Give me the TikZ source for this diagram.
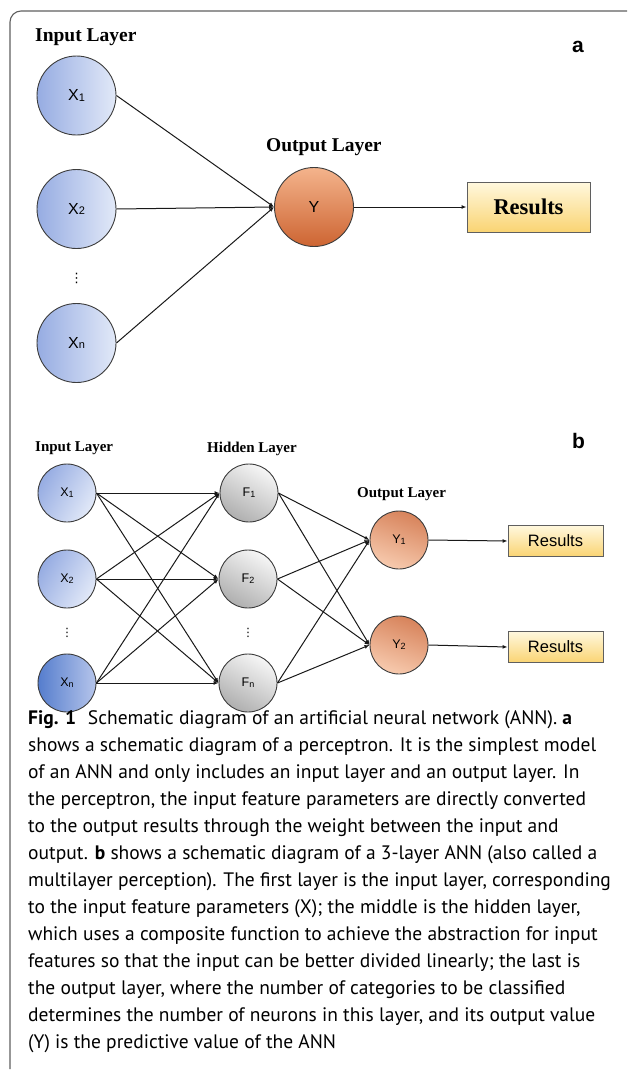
\documentclass[tikz,border=0pt]{standalone}
\usepackage{fontspec}
\setmainfont{Liberation Serif}
\setsansfont{Liberation Sans}
\newfontfamily\capfont{PT Sans}
\newfontfamily\symfont{DejaVu Sans}
\usetikzlibrary{arrows.meta}

% colours of the neurons and result boxes
\definecolor{frameg}{RGB}{95,95,95}
\definecolor{edgeg}{RGB}{60,60,60}
\definecolor{blueD}{RGB}{150,172,226}
\definecolor{blueL}{RGB}{226,233,248}
\definecolor{blueX}{RGB}{85,125,205}
\definecolor{grayD}{RGB}{175,175,175}
\definecolor{grayL}{RGB}{246,246,246}
\definecolor{orgD}{RGB}{205,100,50}
\definecolor{orgL}{RGB}{244,180,140}
\definecolor{yelD}{RGB}{250,212,115}
\definecolor{yelL}{RGB}{255,248,222}

% small index digit after a neuron letter
\newcommand{\nidx}[2]{{\fontsize{#2}{#2}\selectfont\raisebox{-0.8pt}{#1}}}

\begin{document}
\begin{tikzpicture}[x=1pt,y=-1pt,
  neuronA/.style={circle, draw=edgeg, line width=0.9pt, minimum size=79pt,
    inner sep=0pt, font=\sffamily\fontsize{16}{16}\selectfont},
  neuronB/.style={circle, draw=edgeg, line width=0.9pt, minimum size=58pt,
    inner sep=0pt, font=\sffamily\fontsize{12.5}{12.5}\selectfont},
  inA/.style={neuronA, left color=blueD, right color=blueL},
  inB/.style={neuronB, left color=blueD, right color=blueL, shading angle=60},
  hidB/.style={neuronB, top color=grayL, bottom color=grayD, shading angle=-30},
  outA/.style={neuronA, top color=orgL, bottom color=orgD},
  outB/.style={neuronB, top color=orgD!80, bottom color=orgL!70, shading angle=-20},
  resbox/.style={draw=frameg, line width=0.9pt, top color=yelL, bottom color=yelD,
    inner sep=0pt},
  headA/.style={anchor=base west, inner sep=0pt,
    font=\bfseries\fontsize{19.5}{20}\selectfont},
  headB/.style={anchor=base west, inner sep=0pt,
    font=\bfseries\fontsize{15}{15}\selectfont},
  panel/.style={anchor=base west, inner sep=0pt,
    font=\sffamily\bfseries\fontsize{21}{21}\selectfont},
  vdot/.style={inner sep=0pt, text=black, font=\symfont\fontsize{13}{13}\selectfont},
  conn/.style={line width=1pt, black!90, -{Latex[length=5pt,width=4pt]}}
]
\useasboundingbox (0,0) rectangle (627,1071);

% outer frame, open on the right and at the bottom
\draw[frameg, line width=1.1pt, rounded corners=11pt]
  (627,11) -- (10,11) -- (10,1069);

% ---------- panel a: perceptron ----------
\node[panel] (la) at (572,52) {a};
\node[headA] (hinA) at (35,41) {Input Layer};
\node[headA] (houtA) at (266,151) {Output Layer};

\node[inA] (xa1) at (76.5,95.5) {X\nidx{1}{11}};
\node[inA] (xa2) at (76.5,209) {X\nidx{2}{11}};
\node[vdot] (da) at (76.5,278) {⋮};
\node[inA] (xan) at (76.5,343) {X\nidx{n}{11}};
\node[outA] (ya) at (314,207) {Y};
\node[resbox, minimum width=123pt, minimum height=50pt,
  font=\bfseries\fontsize{22.5}{22.5}\selectfont] (ra) at (528.5,207) {Results};

\foreach \s in {xa1,xa2,xan}
  \draw[conn] (\s.east) -- (ya.west);
\draw[conn] (ya.east) -- (ra.west);

% ---------- panel b: three-layer network ----------
\node[panel] (lb) at (572,448) {b};
\node[headB] (hinB) at (35,451) {Input Layer};
\node[headB] (hhidB) at (207,452) {Hidden Layer};
\node[headB] (houtB) at (357,497) {Output Layer};

\node[inB] (xb1) at (67,493) {X\nidx{1}{9}};
\node[inB] (xb2) at (67,579) {X\nidx{2}{9}};
\node[vdot, font=\symfont\fontsize{11.5}{11.5}\selectfont] (db1) at (67,633) {⋮};
\node[inB, left color=blueX, right color=blueD!70] (xbn) at (67,683) {X\nidx{n}{9}};

\node[hidB] (fb1) at (249,493) {F\nidx{1}{9}};
\node[hidB] (fb2) at (248,579) {F\nidx{2}{9}};
\node[vdot, font=\symfont\fontsize{11.5}{11.5}\selectfont] (db2) at (248,633) {⋮};
\node[hidB] (fbn) at (248,683) {F\nidx{n}{9}};

\node[outB] (yb1) at (399,540) {Y\nidx{1}{9}};
\node[outB] (yb2) at (399,645) {Y\nidx{2}{9}};

\node[resbox, minimum width=95pt, minimum height=31pt,
  font=\sffamily\fontsize{16.5}{16.5}\selectfont] (rb1) at (555.5,541) {Results};
\node[resbox, minimum width=95pt, minimum height=31pt,
  font=\sffamily\fontsize{16.5}{16.5}\selectfont] (rb2) at (555.5,647) {Results};

\foreach \s in {xb1,xb2,xbn}
  \foreach \t in {fb1,fb2,fbn}
    \draw[conn] (\s.east) -- (\t.west);
\foreach \s in {fb1,fb2,fbn}
  \foreach \t in {yb1,yb2}
    \draw[conn] (\s.east) -- (\t.west);
\draw[conn] (yb1.east) -- (rb1.west);
\draw[conn] (yb2.east) -- (rb2.west);

% ---------- caption ----------
\node[anchor=north west, align=left, inner sep=0pt,
  font=\capfont\fontsize{19.5}{27}\selectfont] (cap) at (28,710) {%
\textbf{Fig. 1}\hspace{0.6em}Schematic diagram of an artificial neural network (ANN). \textbf{a}\\
shows a schematic diagram of a perceptron. It is the simplest model\\
of an ANN and only includes an input layer and an output layer. In\\
the perceptron, the input feature parameters are directly converted\\
to the output results through the weight between the input and\\
output. \textbf{b} shows a schematic diagram of a 3-layer ANN (also called a\\
multilayer perception). The first layer is the input layer, corresponding\\
to the input feature parameters (X); the middle is the hidden layer,\\
which uses a composite function to achieve the abstraction for input\\
features so that the input can be better divided linearly; the last is\\
the output layer, where the number of categories to be classified\\
determines the number of neurons in this layer, and its output value\\
(Y) is the predictive value of the ANN};
\end{tikzpicture}
\end{document}
